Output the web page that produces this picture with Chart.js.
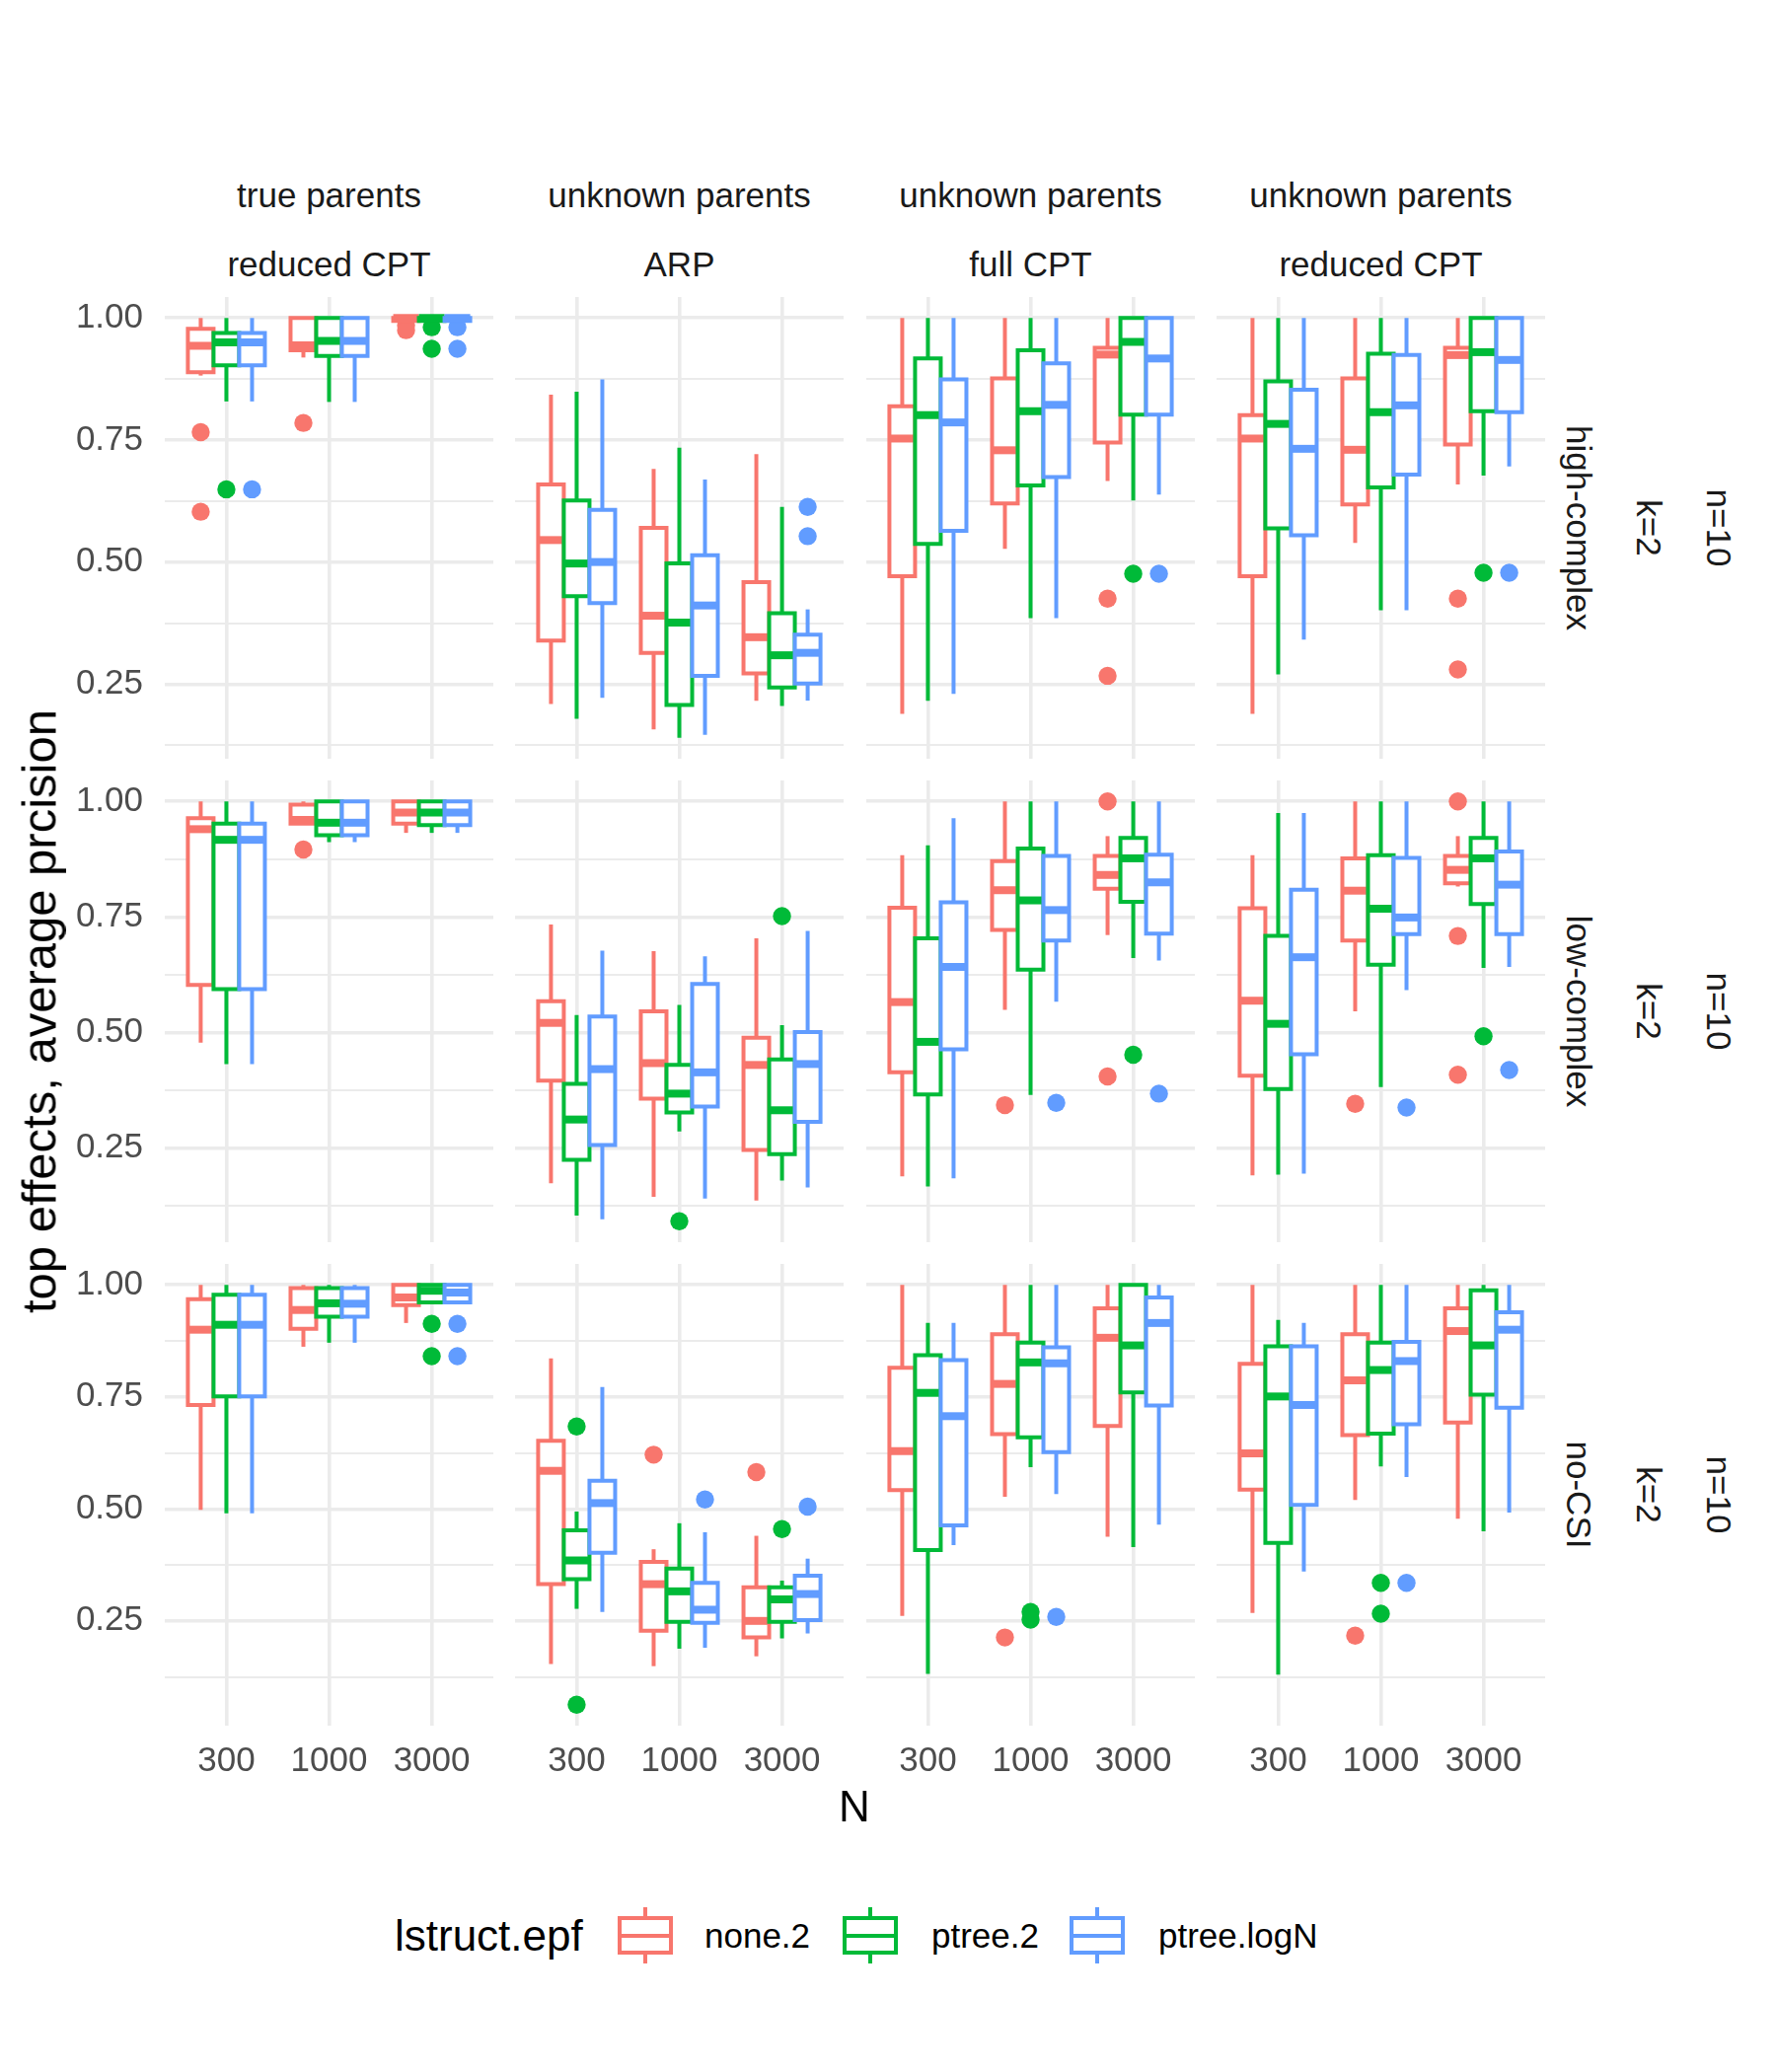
<!DOCTYPE html>
<html>
<head>
<meta charset="utf-8">
<script src="https://cdn.jsdelivr.net/npm/chart.js"></script>
<style>
  html, body { margin: 0; padding: 0; background: #ffffff; }
  #wrap { position: relative; width: 1800px; height: 2100px; background: #ffffff; overflow: hidden;
          font-family: "Liberation Sans", Arial, sans-serif; }
  canvas { position: absolute; }
  .t { position: absolute; white-space: nowrap; }
</style>
</head>
<body>
<div id="wrap"></div>
<script>
// ---------------- DATA ----------------
const N_LABELS = ['300', '1000', '3000'];
const SERIES = ['none.2', 'ptree.2', 'ptree.logN'];
const LEGEND_TITLE = 'lstruct.epf';
const COL_STRIP_1 = ['true parents', 'unknown parents', 'unknown parents', 'unknown parents'];
const COL_STRIP_2 = ['reduced CPT', 'ARP', 'full CPT', 'reduced CPT'];
const ROW_STRIP_1 = ['high-complex', 'low-complex', 'no-CSI'];
const ROW_STRIP_2 = ['k=2', 'k=2', 'k=2'];
const ROW_STRIP_3 = ['n=10', 'n=10', 'n=10'];
const Y_TITLE = 'top effects, average prcision';
const X_TITLE = 'N';
const Y_GRID = [0.125, 0.25, 0.375, 0.5, 0.625, 0.75, 0.875, 1.0];

// box stats per series (none.2, ptree.2, ptree.logN), per N (300, 1000, 3000): [lower whisker, Q1, median, Q3, upper whisker]
// row: high-complex
const hcTrue = [
  [[0.882,0.889,0.943,0.978,1.0],[0.919,0.934,0.944,1.0,1.0],[0.994,0.994,1.0,1.0,1.0]],
  [[0.829,0.903,0.950,0.969,1.0],[0.828,0.922,0.953,1.0,1.0],[0.994,0.994,1.0,1.0,1.0]],
  [[0.829,0.903,0.950,0.969,1.0],[0.828,0.922,0.953,1.0,1.0],[0.994,0.994,1.0,1.0,1.0]]
];
const hcTrueOut = [[[0.766,0.603],[0.785],[0.985,0.975]],[[0.649],[],[0.981,0.937]],[[0.649],[],[0.981,0.937]]];
const hcARP = [
  [[0.209,0.339,0.545,0.659,0.843],[0.157,0.314,0.390,0.570,0.691],[0.216,0.272,0.346,0.459,0.721]],
  [[0.179,0.430,0.497,0.626,0.849],[0.140,0.207,0.376,0.497,0.734],[0.205,0.243,0.309,0.395,0.613]],
  [[0.222,0.416,0.500,0.607,0.874],[0.146,0.267,0.411,0.514,0.669],[0.216,0.251,0.314,0.351,0.403]]
];
const hcARPOut = [[[],[],[]],[[],[],[]],[[],[],[0.613,0.553]]];
const hcFull = [
  [[0.189,0.471,0.753,0.819,1.0],[0.527,0.620,0.729,0.876,1.0],[0.666,0.745,0.925,0.939,1.0]],
  [[0.216,0.537,0.801,0.917,1.0],[0.385,0.657,0.809,0.934,1.0],[0.626,0.802,0.951,1.0,1.0]],
  [[0.230,0.564,0.786,0.874,1.0],[0.385,0.674,0.822,0.907,1.0],[0.638,0.802,0.917,1.0,1.0]]
];
const hcFullOut = [[[],[],[0.425,0.267]],[[],[],[0.476]],[[],[],[0.476]]];
const hcRed = [
  [[0.189,0.471,0.753,0.801,1.0],[0.539,0.618,0.730,0.876,1.0],[0.659,0.741,0.924,0.939,1.0]],
  [[0.270,0.569,0.783,0.870,1.0],[0.401,0.653,0.807,0.927,1.0],[0.677,0.809,0.930,1.0,1.0]],
  [[0.341,0.555,0.732,0.853,1.0],[0.401,0.679,0.821,0.924,1.0],[0.696,0.807,0.914,1.0,1.0]]
];
const hcRedOut = [[[],[],[0.425,0.280]],[[],[],[0.478]],[[],[],[0.478]]];

// row: low-complex
const lcTrue = [
  [[0.478,0.603,0.940,0.964,1.0],[0.952,0.952,0.960,0.993,1.0],[0.932,0.952,0.976,1.0,1.0]],
  [[0.432,0.594,0.917,0.952,1.0],[0.912,0.927,0.954,1.0,1.0],[0.932,0.949,0.976,1.0,1.0]],
  [[0.432,0.594,0.917,0.952,1.0],[0.912,0.927,0.954,1.0,1.0],[0.932,0.949,0.976,1.0,1.0]]
];
const lcTrueOut = [[[],[0.896],[]],[[],[],[]],[[],[],[]]];
const lcARP = [
  [[0.174,0.396,0.521,0.568,0.734],[0.145,0.357,0.434,0.546,0.676],[0.137,0.246,0.430,0.489,0.704]],
  [[0.104,0.225,0.312,0.389,0.538],[0.286,0.327,0.368,0.430,0.560],[0.180,0.237,0.332,0.442,0.516]],
  [[0.096,0.257,0.421,0.535,0.677],[0.141,0.340,0.414,0.605,0.665],[0.165,0.307,0.432,0.501,0.720]]
];
const lcARPOut = [[[],[],[]],[[],[0.092],[0.752]],[[],[],[]]];
const lcFull = [
  [[0.189,0.414,0.566,0.770,0.884],[0.549,0.722,0.808,0.871,1.0],[0.711,0.811,0.841,0.882,0.925]],
  [[0.167,0.366,0.480,0.704,0.905],[0.365,0.636,0.786,0.898,1.0],[0.661,0.783,0.877,0.921,1.0]],
  [[0.185,0.464,0.642,0.782,0.964],[0.567,0.699,0.765,0.882,1.0],[0.656,0.714,0.825,0.885,1.0]]
];
const lcFullOut = [[[],[0.343],[1.0,0.405]],[[],[],[0.452]],[[],[0.348],[0.368]]];
const lcRed = [
  [[0.191,0.407,0.569,0.769,0.884],[0.546,0.699,0.807,0.877,1.0],[0.816,0.823,0.852,0.882,0.925]],
  [[0.193,0.378,0.519,0.709,0.975],[0.382,0.647,0.768,0.884,1.0],[0.640,0.778,0.877,0.921,1.0]],
  [[0.195,0.453,0.663,0.809,0.975],[0.592,0.713,0.749,0.878,1.0],[0.642,0.713,0.820,0.892,1.0]]
];
const lcRedOut = [[[],[0.346],[1.0,0.709,0.409]],[[],[],[0.492]],[[],[0.338],[0.419]]];

// row: no-CSI
const ncTrue = [
  [[0.498,0.732,0.900,0.968,1.0],[0.862,0.902,0.944,0.993,1.0],[0.915,0.955,0.972,1.0,1.0]],
  [[0.490,0.751,0.911,0.978,1.0],[0.871,0.929,0.959,0.993,1.0],[0.957,0.961,0.987,1.0,1.0]],
  [[0.490,0.751,0.911,0.978,1.0],[0.871,0.929,0.958,0.993,1.0],[0.957,0.961,0.983,1.0,1.0]]
];
const ncTrueOut = [[[],[],[]],[[],[],[0.913,0.841]],[[],[],[0.913,0.841]]];
const ncARP = [
  [[0.154,0.332,0.585,0.652,0.836],[0.149,0.228,0.332,0.382,0.410],[0.171,0.213,0.250,0.325,0.440]],
  [[0.277,0.343,0.385,0.452,0.494],[0.188,0.248,0.316,0.367,0.468],[0.211,0.248,0.298,0.325,0.340]],
  [[0.270,0.402,0.513,0.563,0.772],[0.190,0.246,0.275,0.335,0.448],[0.222,0.252,0.310,0.351,0.389]]
];
const ncARPOut = [[[],[0.621],[0.582]],[[0.684,0.063],[],[0.455]],[[],[0.521],[0.505]]];
const ncFull = [
  [[0.261,0.542,0.629,0.815,1.0],[0.527,0.667,0.779,0.890,1.0],[0.438,0.685,0.882,0.948,1.0]],
  [[0.132,0.408,0.759,0.843,0.915],[0.593,0.660,0.827,0.871,1.0],[0.415,0.760,0.865,1.0,1.0]],
  [[0.419,0.463,0.707,0.832,0.915],[0.533,0.627,0.825,0.861,1.0],[0.465,0.731,0.915,0.972,1.0]]
];
const ncFullOut = [[[],[0.213],[]],[[],[0.270,0.253],[]],[[],[0.259],[]]];
const ncRed = [
  [[0.268,0.543,0.624,0.824,1.0],[0.520,0.665,0.787,0.890,1.0],[0.478,0.693,0.897,0.948,1.0]],
  [[0.130,0.424,0.751,0.863,0.922],[0.595,0.668,0.810,0.871,1.0],[0.450,0.755,0.865,0.988,1.0]],
  [[0.360,0.509,0.732,0.863,0.915],[0.571,0.689,0.830,0.873,1.0],[0.492,0.726,0.900,0.939,1.0]]
];
const ncRedOut = [[[],[0.217],[]],[[],[0.335,0.266],[]],[[],[0.335],[]]];

const PANEL_STATS = [[hcTrue, hcARP, hcFull, hcRed], [lcTrue, lcARP, lcFull, lcRed], [ncTrue, ncARP, ncFull, ncRed]];
const PANEL_OUTS  = [[hcTrueOut, hcARPOut, hcFullOut, hcRedOut], [lcTrueOut, lcARPOut, lcFullOut, lcRedOut], [ncTrueOut, ncARPOut, ncFullOut, ncRedOut]];

// ---------------- STYLE / LAYOUT ----------------
const COLORS = ['#F8766D', '#00BA38', '#619CFF'];
const FONT = '"Liberation Sans", Arial, sans-serif';
const PANEL_LEFT = [167, 522, 878, 1233];
const PANEL_W = 333;
const PANEL_TOP = [301, 791, 1281];
const PANEL_H = 468;
const GRID_COLOR = '#EBEBEB';

const wrap = document.getElementById('wrap');

function rowLimits(r) {
  let lo = Infinity, hi = -Infinity;
  for (let c = 0; c < 4; c++) {
    PANEL_STATS[r][c].forEach(ser => ser.forEach(b => b.forEach(v => { lo = Math.min(lo, v); hi = Math.max(hi, v); })));
    PANEL_OUTS[r][c].forEach(ser => ser.forEach(o => o.forEach(v => { lo = Math.min(lo, v); hi = Math.max(hi, v); })));
  }
  const span = hi - lo;
  return [lo - 0.05 * span, hi + 0.05 * span];
}

function isMajor(v) { return Math.abs(v * 4 - Math.round(v * 4)) < 1e-6; }

function zeroPad(ax) { ax.paddingTop = 0; ax.paddingBottom = 0; ax.paddingLeft = 0; ax.paddingRight = 0; }

function panelDatasets(stats, outs) {
  const ds = [];
  let g = 0;
  for (let n = 0; n < 3; n++) {
    for (let s = 0; s < 3; s++) {
      const [lo, q1, med, q3, hi] = stats[s][n];
      const xc = n + 1 + (s - 1) * 0.25, x0 = xc - 0.125, x1 = xc + 0.125;
      const col = COLORS[s];
      const base = 1000 - g * 10;
      ds.push({ data: outs[s][n].map(v => ({ x: xc, y: v })), showLine: false, pointRadius: 9.2,
                pointBackgroundColor: col, pointBorderWidth: 0, pointBorderColor: col, order: base, clip: false });
      ds.push({ data: [{ x: xc, y: lo }, { x: xc, y: hi }], showLine: true, borderColor: col, borderWidth: 4,
                pointRadius: 0, borderCapStyle: 'butt', order: base - 1, clip: false, fill: false });
      ds.push({ data: [{ x: x0, y: q1 }, { x: x0, y: q3 }, { x: x1, y: q3 }, { x: x1, y: q1 }, { x: x0, y: q1 }],
                showLine: true, fill: 'shape', backgroundColor: '#ffffff', borderColor: col, borderWidth: 4,
                pointRadius: 0, borderJoinStyle: 'miter', borderCapStyle: 'square', order: base - 2, clip: false });
      ds.push({ data: [{ x: x0, y: med }, { x: x1, y: med }], showLine: true, borderColor: col, borderWidth: 8,
                pointRadius: 0, borderCapStyle: 'butt', order: base - 3, clip: false, fill: false });
      g++;
    }
  }
  return ds;
}

function makePanel(r, c) {
  const padL = c === 0 ? PANEL_LEFT[0] : 0;
  const padB = r === 2 ? 80 : 0;
  const W = padL + PANEL_W, H = PANEL_H + padB;
  const cv = document.createElement('canvas');
  cv.width = W; cv.height = H;
  cv.style.left = (PANEL_LEFT[c] - padL) + 'px';
  cv.style.top = PANEL_TOP[r] + 'px';
  cv.style.width = W + 'px'; cv.style.height = H + 'px';
  wrap.appendChild(cv);
  const [ymin, ymax] = rowLimits(r);
  new Chart(cv, {
    type: 'scatter',
    data: { datasets: panelDatasets(PANEL_STATS[r][c], PANEL_OUTS[r][c]) },
    options: {
      responsive: false, animation: false, devicePixelRatio: 1,
      layout: { padding: 0, autoPadding: false },
      events: [],
      plugins: { legend: { display: false }, tooltip: { enabled: false } },
      scales: {
        x: {
          type: 'linear', position: 'bottom', min: 0.4, max: 3.6,
          afterBuildTicks: ax => { ax.ticks = N_LABELS.map((_, i) => ({ value: i + 1 })); },
          afterFit: ax => { ax.height = padB; zeroPad(ax); },
          grid: { color: GRID_COLOR, lineWidth: 3.6, drawTicks: false },
          border: { display: false },
          ticks: { display: r === 2, autoSkip: false, maxRotation: 0, minRotation: 0, padding: 15, color: '#4D4D4D',
                   font: { family: FONT, size: 35 }, callback: v => N_LABELS[Math.round(v) - 1] }
        },
        y: {
          type: 'linear', position: 'left', min: ymin, max: ymax,
          afterBuildTicks: ax => { ax.ticks = Y_GRID.filter(v => v > ymin && v < ymax).map(v => ({ value: v })); },
          afterFit: ax => { ax.width = padL; zeroPad(ax); },
          grid: { color: GRID_COLOR, drawTicks: false,
                  lineWidth: ctx => (ctx.tick && isMajor(ctx.tick.value)) ? 3.6 : 1.9 },
          border: { display: false },
          ticks: { display: c === 0, padding: 22, color: '#4D4D4D', font: { family: FONT, size: 35 },
                   callback: v => isMajor(v) ? v.toFixed(2) : '' }
        }
      }
    }
  });
}

for (let r = 0; r < 3; r++) for (let c = 0; c < 4; c++) makePanel(r, c);

// ---------------- TEXT ----------------
function addText(txt, x, y, size, opt) {
  opt = opt || {};
  const d = document.createElement('div');
  d.className = 't';
  d.textContent = txt;
  d.style.fontSize = size + 'px';
  d.style.lineHeight = size + 'px';
  d.style.color = opt.color || '#1A1A1A';
  d.style.left = x + 'px';
  d.style.top = y + 'px';
  let tr = opt.left ? 'translate(0,-50%)' : 'translate(-50%,-50%)';
  if (opt.rot) tr += ' rotate(' + opt.rot + 'deg)';
  d.style.transform = tr;
  wrap.appendChild(d);
}

for (let c = 0; c < 4; c++) {
  const cx = PANEL_LEFT[c] + PANEL_W / 2;
  addText(COL_STRIP_1[c], cx, 197, 35);
  addText(COL_STRIP_2[c], cx, 267, 35);
}
for (let r = 0; r < 3; r++) {
  const cy = PANEL_TOP[r] + PANEL_H / 2;
  addText(ROW_STRIP_1[r], 1600, cy, 35, { rot: 90 });
  addText(ROW_STRIP_2[r], 1671, cy, 35, { rot: 90 });
  addText(ROW_STRIP_3[r], 1742, cy, 35, { rot: 90 });
}
addText(Y_TITLE, 40, 1025, 49, { rot: -90, color: '#000000' });
addText(X_TITLE, 866, 1831, 44, { color: '#000000' });

// ---------------- LEGEND ----------------
addText(LEGEND_TITLE, 400, 1962, 44, { left: true, color: '#000000' });
const KEY_CX = [654, 882, 1112];
const LABEL_X = [714, 944, 1174];
SERIES.forEach((name, i) => {
  const k = document.createElement('div');
  k.style.cssText = `position:absolute;left:${KEY_CX[i] - 28}px;top:1933px;width:56px;height:57px;`;
  const col = COLORS[i];
  k.innerHTML =
    `<div style="position:absolute;left:26px;top:0;width:4px;height:57px;background:${col}"></div>` +
    `<div style="position:absolute;left:0;top:9px;width:56px;height:39px;box-sizing:border-box;border:4px solid ${col};background:#fff"></div>` +
    `<div style="position:absolute;left:0;top:26.5px;width:56px;height:4px;background:${col}"></div>`;
  wrap.appendChild(k);
  addText(name, LABEL_X[i], 1961, 35, { left: true, color: '#000000' });
});
</script>
</body>
</html>
